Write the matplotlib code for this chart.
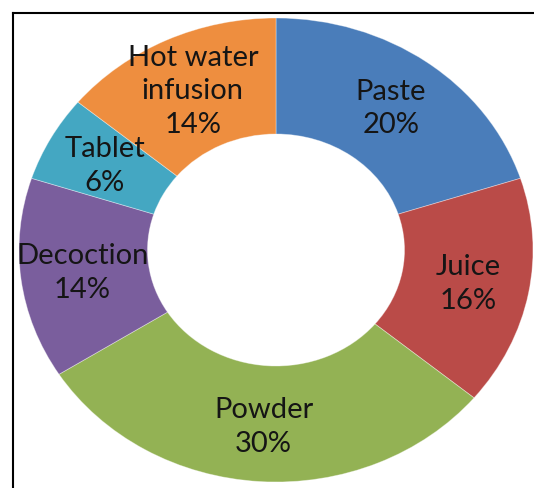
import matplotlib
matplotlib.use("Agg")
import matplotlib.pyplot as plt
from matplotlib.lines import Line2D

categories = ["Paste", "Juice", "Powder", "Decoction", "Tablet", "Hot water\ninfusion"]
values = [20, 16, 30, 14, 6, 14]
colors = ["#4A7DBA", "#BA4B48", "#93B254", "#7A5E9D", "#44A7C2", "#EE8E3F"]

W, H = 534, 489
fig = plt.figure(figsize=(W / 100, H / 100), dpi=100)
fig.patch.set_facecolor("white")

cx, cy, rx, ry = 276, 251, 257, 232
ax = fig.add_axes([(cx - rx) / W, (H - cy - ry) / H, 2 * rx / W, 2 * ry / H])

labels = [f"{c}\n{v}%" for c, v in zip(categories, values)]
wedges, texts = ax.pie(values, labels=labels, colors=colors, startangle=90,
                       counterclock=False, labeldistance=0.76,
                       wedgeprops=dict(width=0.5, edgecolor=(1, 1, 1, 0.4), linewidth=0.6),
                       textprops=dict(fontsize=21, family=["Lato", "DejaVu Sans"],
                                      color="#151515"))
for t in texts:
    t.set_ha("center")
    t.set_va("center")
    t.set_linespacing(1.36)
ax.set_aspect("auto")
ax.set_xlim(-1, 1)
ax.set_ylim(-1, 1)
ax.axis("off")

# frame lines (top and left)
lw = 1.5
fig.add_artist(Line2D([13 / W, 1], [1 - 14 / H, 1 - 14 / H], color="black", lw=lw,
                      transform=fig.transFigure))
fig.add_artist(Line2D([13 / W, 13 / W], [1 - 14 / H, 0], color="black", lw=lw,
                      transform=fig.transFigure))

fig.savefig("out.png", dpi=100)
